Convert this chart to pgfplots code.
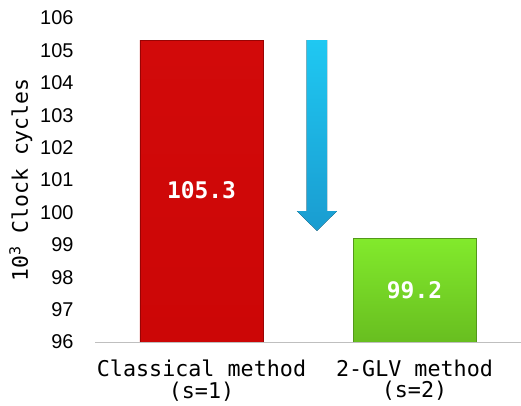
\documentclass[border=0pt]{standalone}
\usepackage{pgfplots}
\pgfplotsset{compat=1.18}
\usepackage{fontspec}
\setmainfont{Liberation Sans}
\newfontfamily\monofont{DejaVu Sans Mono}

\definecolor{barred}{HTML}{CC0606}
\definecolor{barredtop}{HTML}{D20A0A}
\definecolor{greentop}{HTML}{82EA2C}
\definecolor{greenbot}{HTML}{68BE20}
\definecolor{arrowtop}{HTML}{1FC8F2}
\definecolor{arrowbot}{HTML}{1A9CD0}

\begin{document}
\begin{tikzpicture}
\begin{axis}[
  name=ax,
  scale only axis,
  width=426bp, height=324bp,
  xmin=-0.5, xmax=1.5,
  ymin=96, ymax=106,
  ytick={96,97,...,106},
  xtick={0,1},
  xticklabels={{Classical method\\(s=1)},{2-GLV method\\(s=2)}},
  xticklabel style={align=center, yshift=-14bp,
    font=\monofont\fontsize{21.8}{22}\selectfont},
  yticklabel style={font=\fontsize{20}{24}\selectfont, xshift=-18bp},
  /pgf/number format/assume math mode=true,
  major tick length=0pt,
  axis line style={draw=none},
  ylabel={10\textsuperscript{3} Clock cycles},
  ylabel style={font=\monofont\fontsize{21.5}{24}\selectfont,
    at={(axis description cs:-0.174,0.5)}, anchor=center},
]
  % classical method
  \addplot[ybar, bar width=123bp, draw=barred!75!black,
    top color=barredtop, bottom color=barred] coordinates {(0,105.3)};
  % 2-GLV method
  \addplot[ybar, bar width=123bp, draw=greenbot!80!black,
    top color=greentop, bottom color=greenbot] coordinates {(1,99.2)};

  % downward arrow between the two bars
  \fill[top color=arrowtop, bottom color=arrowbot]
    (axis cs:0.494,105.32) -- (axis cs:0.590,105.32) -- (axis cs:0.590,100.04)
    -- (axis cs:0.636,100.04) -- (axis cs:0.542,99.43) -- (axis cs:0.448,100.04)
    -- (axis cs:0.494,100.04) -- cycle;

  % value labels inside the bars
  \node[text=white, font=\monofont\bfseries\fontsize{23}{24}\selectfont]
    at (axis cs:0,100.7) {105.3};
  \node[text=white, font=\monofont\bfseries\fontsize{23}{24}\selectfont]
    at (axis cs:1,97.6) {99.2};
\end{axis}
\draw[black!25, line width=0.8bp] (ax.south west) -- (ax.south east);
\pgfresetboundingbox
\useasboundingbox (-95bp,-64bp) rectangle (426bp,342bp);
\end{tikzpicture}
\end{document}
